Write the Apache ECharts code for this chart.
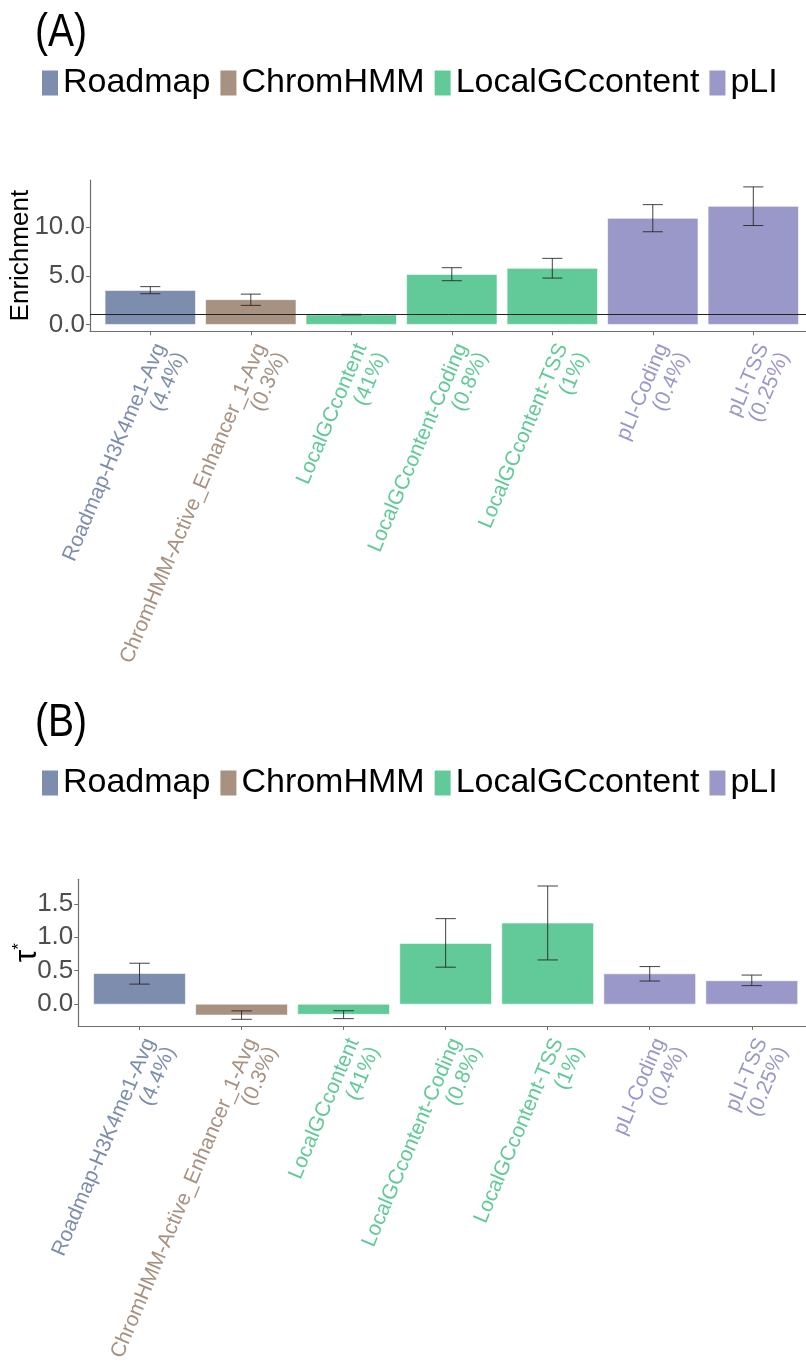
<!DOCTYPE html>
<html>
<head>
<meta charset="utf-8">
<script src="https://cdn.jsdelivr.net/npm/echarts@6/dist/echarts.min.js"></script>
<style>
  html, body { margin: 0; padding: 0; background: #ffffff; }
  #chart { width: 806px; height: 1365px; }
</style>
</head>
<body>
<div id="chart"></div>
<script>
// Annotation categories (x axis) and their genome proportions
const categories = [
  'Roadmap-H3K4me1-Avg',
  'ChromHMM-Active_Enhancer_1-Avg',
  'LocalGCcontent',
  'LocalGCcontent-Coding',
  'LocalGCcontent-TSS',
  'pLI-Coding',
  'pLI-TSS'
];
const proportions = ['(4.4%)', '(0.3%)', '(41%)', '(0.8%)', '(1%)', '(0.4%)', '(0.25%)'];
const categoryGroup = ['Roadmap', 'ChromHMM', 'LocalGCcontent', 'LocalGCcontent', 'LocalGCcontent', 'pLI', 'pLI'];
const groupNames = ['Roadmap', 'ChromHMM', 'LocalGCcontent', 'pLI'];

// Panel A: enrichment with error bar bounds
const enrichment     = [3.50, 2.55, 1.00, 5.15, 5.77, 10.93, 12.16];
const enrichmentLow  = [3.16, 1.96, 0.98, 4.50, 4.77,  9.54, 10.18];
const enrichmentHigh = [3.89, 3.12, 1.04, 5.84, 6.80, 12.33, 14.16];
const enrichmentBaseline = 1;
const enrichmentTicks = [0, 5, 10];

// Panel B: tau* with error bar bounds
const tau     = [0.459, -0.163, -0.152, 0.908, 1.213, 0.454, 0.351];
const tauLow  = [0.300, -0.226, -0.216, 0.553, 0.661, 0.346, 0.277];
const tauHigh = [0.612, -0.100, -0.098, 1.278, 1.766, 0.562, 0.435];
const tauTicks = [0.0, 0.5, 1.0, 1.5];

const groupColors = {
  Roadmap: '#7D8DAD',
  ChromHMM: '#A79181',
  LocalGCcontent: '#62CA98',
  pLI: '#9A98C9'
};

const FONT = "'Liberation Sans', Arial, Helvetica, sans-serif";
const AXIS_GREY = '#6e6e6e';
const positions = categories.map((_, i) => i + 1);

// One bar + error bar per data item: [x, value, low, high]
function renderBar(params, api) {
  const x = api.value(0), v = api.value(1), lo = api.value(2), hi = api.value(3);
  const a = api.coord([x - 0.45, v]);
  const b = api.coord([x + 0.45, 0]);
  const top = api.coord([x, hi]);
  const bot = api.coord([x, lo]);
  const cl = api.coord([x - 0.1, hi])[0];
  const cr = api.coord([x + 0.1, hi])[0];
  const errStyle = { stroke: '#222', lineWidth: 1, opacity: 0.85 };
  return {
    type: 'group',
    children: [
      {
        type: 'rect',
        shape: { x: a[0], y: Math.min(a[1], b[1]), width: b[0] - a[0], height: Math.abs(b[1] - a[1]) },
        style: { fill: api.visual('color'), stroke: 'rgba(255,255,255,0.6)', lineWidth: 1 }
      },
      { type: 'line', shape: { x1: top[0], y1: top[1], x2: bot[0], y2: bot[1] }, style: errStyle },
      { type: 'line', shape: { x1: cl, y1: top[1], x2: cr, y2: top[1] }, style: errStyle },
      { type: 'line', shape: { x1: cl, y1: bot[1], x2: cr, y2: bot[1] }, style: errStyle }
    ]
  };
}

function buildSeries(values, lows, highs, axisIndex, baseline) {
  return groupNames.map((g, gi) => {
    const data = [];
    categories.forEach((c, i) => {
      if (categoryGroup[i] === g) data.push([positions[i], values[i], lows[i], highs[i]]);
    });
    const s = {
      type: 'custom',
      name: g,
      xAxisIndex: axisIndex,
      yAxisIndex: axisIndex,
      itemStyle: { color: groupColors[g] },
      encode: { x: 0, y: [1, 2, 3] },
      renderItem: renderBar,
      data: data,
      silent: true
    };
    if (baseline !== undefined && gi === 0) {
      s.markLine = {
        silent: true,
        symbol: 'none',
        label: { show: false },
        lineStyle: { color: '#222', width: 1, type: 'solid' },
        data: [{ yAxis: baseline }]
      };
    }
    return s;
  });
}

function xAxisFor(gridIndex) {
  return {
    type: 'value',
    gridIndex: gridIndex,
    min: 0.4,
    max: 7.6,
    splitLine: { show: false },
    axisLine: { show: true, onZero: false, lineStyle: { color: AXIS_GREY, width: 1.2 } },
    axisTick: { show: true, customValues: positions, length: 4, lineStyle: { color: AXIS_GREY } },
    axisLabel: {
      customValues: positions,
      rotate: 67,
      verticalAlign: 'top',
      align: 'right',
      margin: 9,
      fontFamily: FONT,
      fontSize: 21,
      lineHeight: 22,
      color: (v) => groupColors[categoryGroup[Math.round(+v) - 1]],
      formatter: (v) => {
        const i = Math.round(v) - 1;
        return categories[i] + '\n' + proportions[i];
      }
    }
  };
}

function yAxisFor(gridIndex, min, max, ticks, name, nameGap, nameStyle) {
  return {
    type: 'value',
    gridIndex: gridIndex,
    min: min,
    max: max,
    splitLine: { show: false },
    axisLine: { show: true, onZero: false, lineStyle: { color: AXIS_GREY, width: 1.2 } },
    axisTick: { show: true, customValues: ticks, length: 4, lineStyle: { color: AXIS_GREY } },
    axisLabel: {
      customValues: ticks,
      margin: 5,
      fontFamily: FONT,
      fontSize: 26,
      color: '#4D4D4D',
      formatter: (v) => (+v).toFixed(1)
    },
    name: name,
    nameLocation: 'middle',
    nameGap: nameGap,
    nameMoveOverlap: false,
    nameTextStyle: nameStyle
  };
}

const legendBase = {
  data: groupNames,
  orient: 'horizontal',
  left: 37,
  icon: 'rect',
  itemWidth: 16,
  itemHeight: 25,
  itemGap: 10,
  selectedMode: false,
  textStyle: { fontFamily: FONT, fontSize: 34, color: '#000' }
};

const chart = echarts.init(document.getElementById('chart'), null, { renderer: 'canvas' });

chart.setOption({
  animation: false,
  backgroundColor: '#ffffff',
  graphic: [
    { type: 'text', left: 35, top: 10, scaleX: 0.85, style: { text: '(A)', font: '46px ' + FONT, fill: '#000' } },
    { type: 'text', left: 35, top: 700, scaleX: 0.85, style: { text: '(B)', font: '46px ' + FONT, fill: '#000' } }
  ],
  legend: [
    Object.assign({}, legendBase, { top: 61 }),
    Object.assign({}, legendBase, { top: 761 })
  ],
  grid: [
    { left: 90, top: 180, width: 723.6, height: 151.3, outerBoundsMode: 'none', containLabel: false },
    { left: 78.3, top: 879.3, width: 734.7, height: 146.7, outerBoundsMode: 'none', containLabel: false }
  ],
  xAxis: [xAxisFor(0), xAxisFor(1)],
  yAxis: [
    yAxisFor(0, -0.708, 14.868, enrichmentTicks, 'Enrichment', 56,
      { fontFamily: FONT, fontSize: 26, color: '#000' }),
    yAxisFor(1, -0.326, 1.866, tauTicks, '{t|τ}{s|*}', 35,
      {
        fontFamily: FONT, color: '#000',
        rich: {
          t: { fontFamily: FONT, fontSize: 32, color: '#000' },
          s: { fontFamily: FONT, fontSize: 17, color: '#000', verticalAlign: 'top' }
        }
      })
  ],
  series: [].concat(
    buildSeries(enrichment, enrichmentLow, enrichmentHigh, 0, enrichmentBaseline),
    buildSeries(tau, tauLow, tauHigh, 1)
  )
});
</script>
</body>
</html>
